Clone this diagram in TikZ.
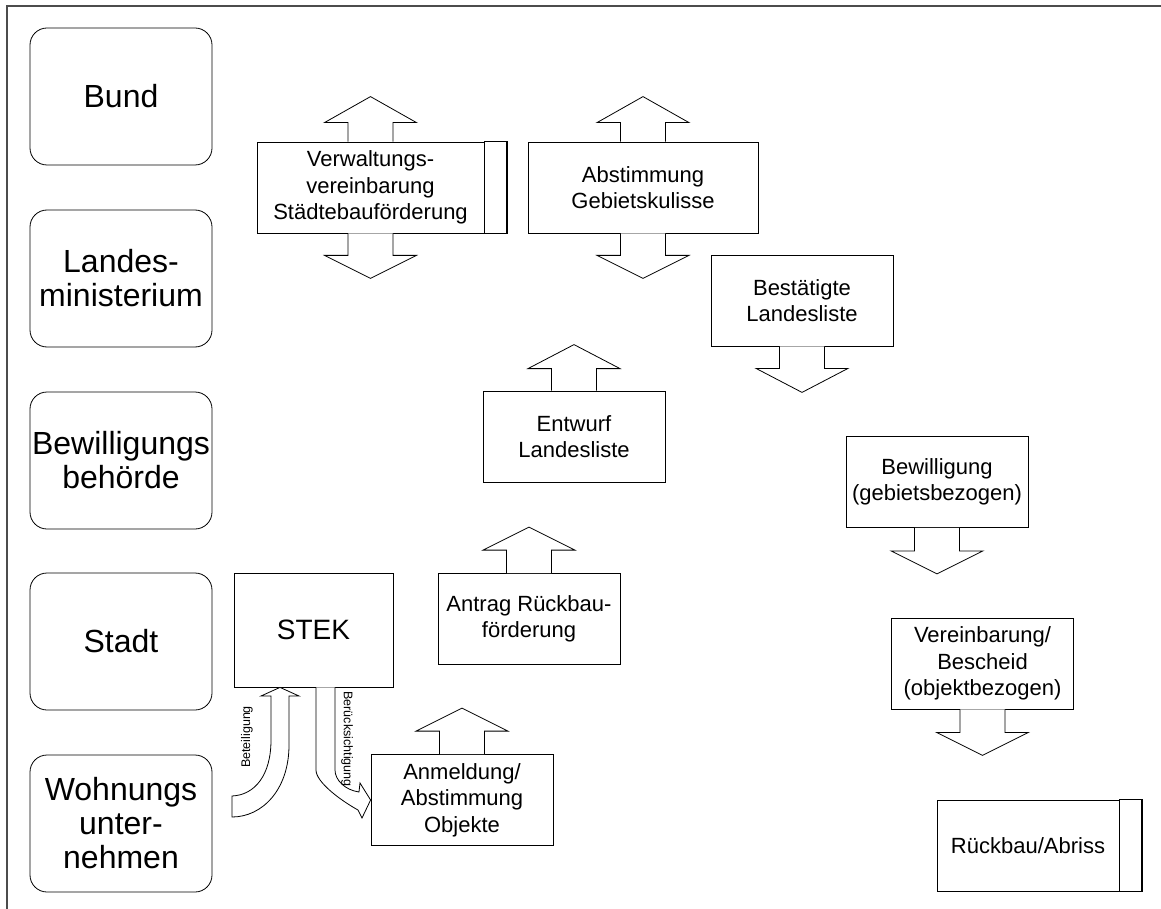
\documentclass[tikz,border=0pt]{standalone}
\usepackage{fontspec}
\setmainfont{Liberation Sans}
\usetikzlibrary{calc}
\newcommand\UpArr[3]{\draw[barrow] ($(#1.north)+(-22.5,0)$) -- ++(0,-#2) -- ++(-23.5,0) -- ++(46,-#3) -- ++(46,#3) -- ++(-23.5,0) -- ++(0,#2);}
\newcommand\DownArr[3]{\draw[barrow] ($(#1.south)+(-22.5,0)$) -- ++(0,#2) -- ++(-23.5,0) -- ++(46,#3) -- ++(46,-#3) -- ++(-23.5,0) -- ++(0,-#2);}
\begin{document}
\begin{tikzpicture}[x=1pt,y=-1pt,
  lvl/.style={draw, line width=0.8pt, rounded corners=17pt, minimum width=182pt, minimum height=137pt, inner sep=0pt, align=center, font=\fontsize{32}{34}\selectfont},
  box/.style={draw, line width=0.8pt, fill=white, minimum width=182pt, minimum height=91pt, inner sep=0pt, align=center, font=\fontsize{22}{26.5}\selectfont},
  barrow/.style={draw, fill=white, line width=0.8pt, line join=miter},
  strip/.style={draw, line width=1.2pt},
  small/.style={font=\fontsize{12.5}{14}\selectfont, inner sep=0pt}]
\useasboundingbox (0,0) rectangle (1161,909);
\draw[line width=1.5pt, black!70] (7,909) -- (7,6) -- (1161,6);

% levels
\node[lvl] (bund) at (121,96.5) {Bund};
\node[lvl] (land) at (121,278.5) {Landes-\\ministerium};
\node[lvl] (bew)  at (121,460.5) {Bewilligungs\\behörde};
\node[lvl] (stadt) at (121,641.5) {Stadt};
\node[lvl] (wu)   at (121,823.5) {Wohnungs\\unter-\\nehmen};

% main boxes
\node[box, minimum width=227pt] (verw) at (370.5,187.5) {Verwaltungs-\\vereinbarung\\Städtebauförderung};
\draw[strip] (verw.north east) rectangle (verw.south east -| 507,0);
\UpArr{verw}{19}{26}
\DownArr{verw}{22}{23}

\node[box, minimum width=230pt] (abst) at (643,187.5) {Abstimmung\\Gebietskulisse};
\UpArr{abst}{19}{26}
\DownArr{abst}{22}{23}

\node[box] (best) at (802,300.5) {Bestätigte\\Landesliste};
\DownArr{best}{22}{24}

\node[box] (entw) at (574,436.5) {Entwurf\\Landesliste};
\UpArr{entw}{22}{24}

\node[box] (bewi) at (937,482) {Bewilligung\\(gebietsbezogen)};
\DownArr{bewi}{23}{23}

\node[box] (antr) at (529,619) {Antrag Rückbau-\\förderung};
\UpArr{antr}{23}{23}

\node[box] (vere) at (982.5,663.5) {Vereinbarung/\\Bescheid\\(objektbezogen)};
\DownArr{vere}{23}{23}

\node[box] (anm) at (462,800) {Anmeldung/\\Abstimmung\\Objekte};
\UpArr{anm}{23}{23}

\node[box, minimum width=159pt, minimum height=114pt, font=\fontsize{28}{32}\selectfont] (stek) at (313.5,630) {STEK};

\node[box] (rueck) at (1028,845.5) {Rückbau/Abriss};
\draw[strip] (rueck.north east) rectangle (rueck.south east -| 1142,0);

% curved arrows
\coordinate (betTip) at (stek.south -| 280,0);
\draw[barrow] (232,796) .. controls (255,795) and (271,775) .. (271,740) -- (271,696) -- (261,696) -- (betTip) -- (299,696) -- (289,696) -- (289,745) .. controls (289,790) and (262,817) .. (232,817) -- cycle;
\node[small, rotate=90] (betl) at (247,737) {Beteiligung};

\coordinate (berTip) at (anm.west |- 0,800);
\draw[barrow] (stek.south -| 316,0) -- (316,770) .. controls (316,782) and (340,800) .. (358,810) -- (362,818) -- (berTip) -- (360,783) -- (359,792) .. controls (345,790) and (335,780) .. (335,770) -- (stek.south -| 335,0);
\node[small, rotate=-90] (berl) at (347,739) {Berücksichtigung};
\end{tikzpicture}
\end{document}
